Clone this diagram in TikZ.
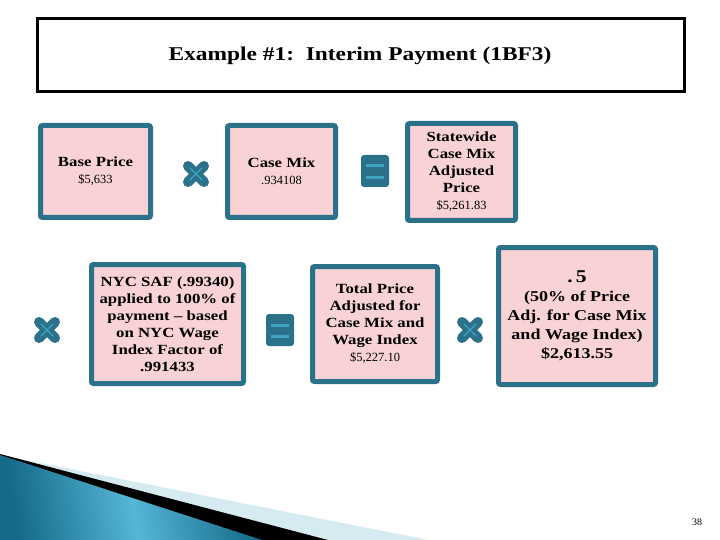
\documentclass[tikz,border=0pt]{standalone}
\usepackage{fontspec}
\setmainfont{Liberation Serif}[FakeStretch=1.2]
\newfontfamily\numfont{Liberation Serif}
\begin{document}
\begin{tikzpicture}[x=1pt,y=-1pt,
  calcbox/.style={draw=boxteal, fill=boxpink, line width=5pt, rounded corners=2pt,
    align=center, inner sep=0pt, font=\fontsize{14}{17}\selectfont\bfseries},
]
\definecolor{boxteal}{HTML}{2A7189}
\definecolor{boxpink}{HTML}{F8D2D5}
\definecolor{lightop}{HTML}{3DA5C2}
\definecolor{swdark}{HTML}{156A88}
\definecolor{swlight}{HTML}{55B6D6}
\definecolor{swpale}{HTML}{D5EAF1}
\newcommand\plainnum[1]{{\numfont\mdseries\fontsize{12.5}{17}\selectfont #1}}
\tikzset{
  timesop/.pic={
    \draw[boxteal, line width=10pt, line cap=round] (-8,-8) -- (8,8) (-8,8) -- (8,-8);
    \draw[lightop, line width=1.3pt, line cap=round] (-6,-6) -- (6,6) (-6,6) -- (6,-6);
  },
  equalsop/.pic={
    \fill[boxteal, rounded corners=3pt] (-14,-16) rectangle (14,16);
    \fill[lightop] (-9,-6.5) rectangle (9,-3.5);
    \fill[lightop] (-9,5) rectangle (9,8);
  }
}
\useasboundingbox (0,0) rectangle (720,540);
\fill[white] (0,0) rectangle (720,540);

% bottom swoosh
\fill[swpale] (0,455) -- (428,540) -- (0,540) -- cycle;
\fill[black] (0,454) -- (328,540) -- (0,540) -- cycle;
\shade[left color=swdark, right color=swdark, middle color=swlight, shading angle=100]
  (0,455) -- (262,540) -- (0,540) -- cycle;

% title
\node[draw=black, line width=3pt, minimum width=647pt, minimum height=73pt, inner sep=0pt]
  (title) at (361,55) {};
\node[font=\fontsize{19.5}{22}\selectfont\bfseries] (titletext) at (360,56)
  {Example \#1:\ \ Interim Payment (1BF3)};

% row 1
\node[calcbox, minimum width=110pt, minimum height=92pt] (base) at (95.5,171.5)
  {Base Price\\\plainnum{\$5,633}};
\node[calcbox, minimum width=108pt, minimum height=92pt] (casemix) at (281.5,171.5)
  {Case Mix\\\plainnum{.934108}};
\node[calcbox, minimum width=108pt, minimum height=97pt] (statewide) at (461.5,172)
  {Statewide\\Case Mix\\Adjusted\\Price\\\plainnum{\$5,261.83}};

\pic (op1) at (196,174) {timesop};
\pic (op2) at (375,171) {equalsop};

% row 2
\pic (op3) at (47,330) {timesop};
\node[calcbox, minimum width=152pt, minimum height=119pt] (saf) at (167.5,324)
  {NYC SAF (.99340)\\applied to 100\% of\\payment -- based\\on NYC Wage\\Index Factor of\\.991433};
\pic (op4) at (280,330) {equalsop};
\node[calcbox, minimum width=125pt, minimum height=115pt] (total) at (375,324)
  {Total Price\\Adjusted for\\Case Mix and\\Wage Index\\\plainnum{\$5,227.10}};
\pic (op5) at (470,330) {timesop};
\node[calcbox, minimum width=157pt, minimum height=137pt, font=\fontsize{15}{19}\selectfont\bfseries] (half) at (577,316)
  {{\fontsize{18}{19}\selectfont .\,5}\\(50\% of Price\\Adj. for Case Mix\\and Wage Index)\\\$2,613.55};

\node[font=\numfont\fontsize{10}{12}\selectfont] (pagenum) at (697,522) {38};
\end{tikzpicture}
\end{document}
